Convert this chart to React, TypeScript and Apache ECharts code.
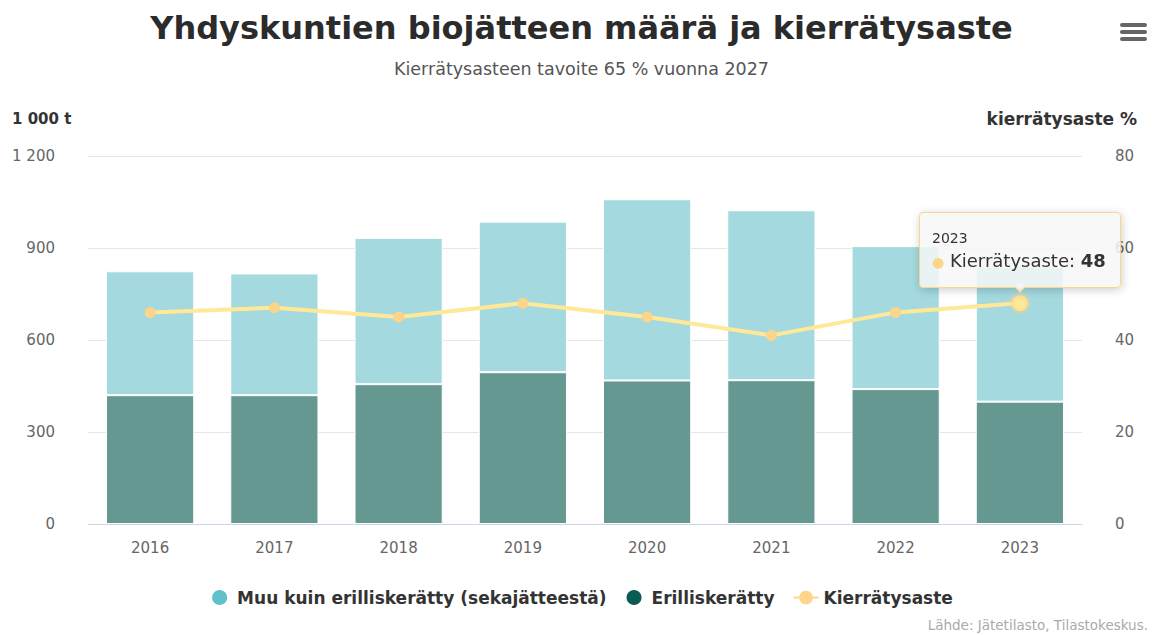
import React, { useEffect, useRef } from "react";
import * as echarts from "echarts";

const categories = ["2016", "2017", "2018", "2019", "2020", "2021", "2022", "2023"];
const mixedWaste = [404, 397, 477, 491, 591, 554, 466, 441];
const separateWaste = [420, 420, 456, 495, 468, 469, 440, 399];
const recyclingRate = [46, 47, 45, 48, 45, 41, 46, 48];

const leftTicks = { min: 0, max: 1200, interval: 300 };
const rightTicks = { min: 0, max: 80, interval: 20 };

const FONT = '"DejaVu Sans", sans-serif';

export default function App() {
  const ref = useRef<HTMLDivElement>(null);
  useEffect(() => {
    if (!ref.current) return;
    document.body.style.margin = "0";
    const chart = echarts.init(ref.current, null, { renderer: "svg" });
    chart.setOption({
      animation: false,
      textStyle: { fontFamily: FONT },
      title: {
        text: "Yhdyskuntien biojätteen määrä ja kierrätysaste",
        subtext: "Kierrätysasteen tavoite 65 % vuonna 2027",
        left: "center",
        top: 7,
        itemGap: 16,
        textStyle: { fontFamily: FONT, fontSize: 32, fontWeight: "bold", color: "#2b2b2b" },
        subtextStyle: { fontFamily: FONT, fontSize: 17.5, color: "#555" },
      },
      grid: { left: 88, right: 81, top: 156, bottom: 111 },
      tooltip: {
        trigger: "item",
        position: "top",
        alwaysShowContent: true,
        backgroundColor: "rgba(247,247,247,0.85)",
        borderColor: "#fcd68a",
        borderWidth: 1,
        padding: [14, 14, 13, 12],
        textStyle: { fontFamily: FONT, color: "#333" },
        formatter: (p: any) =>
          `<div style="font-size:14px;line-height:22px">${p.name}</div>` +
          `<div style="font-size:18px;line-height:24px"><span style="color:${p.color};font-size:14px">●</span> ${p.seriesName}: <b>${p.value}</b></div>`,
      },
      legend: {
        left: "center",
        top: 583,
        itemGap: 18,
        itemWidth: 25,
        itemHeight: 17,
        textStyle: { fontFamily: FONT, fontSize: 17, fontWeight: "bold", color: "#333" },
        data: [
          { name: "Muu kuin erilliskerätty (sekajätteestä)", icon: "circle", itemStyle: { color: "#62c0cb" } },
          { name: "Erilliskerätty", icon: "circle", itemStyle: { color: "#0a5c55" } },
          { name: "Kierrätysaste" },
        ],
      },
      xAxis: {
        type: "category",
        data: categories,
        axisLine: { lineStyle: { color: "#ccd6eb" } },
        axisTick: { show: false },
        axisLabel: { color: "#666", fontSize: 15, margin: 16 },
      },
      yAxis: [
        {
          type: "value",
          ...leftTicks,
          axisLabel: {
            color: "#666",
            fontSize: 15,
            margin: 33,
            formatter: (v: number) => String(v).replace(/\B(?=(\d{3})+(?!\d))/g, " "),
          },
          splitLine: { lineStyle: { color: "#e6e6e6" } },
          axisLine: { show: false },
          axisTick: { show: false },
        },
        {
          type: "value",
          ...rightTicks,
          position: "right",
          axisLabel: { color: "#666", fontSize: 15, margin: 33 },
          splitLine: { show: false },
          axisLine: { show: false },
          axisTick: { show: false },
        },
      ],
      series: [
        {
          name: "Erilliskerätty",
          type: "bar",
          stack: "total",
          barWidth: "71%",
          data: separateWaste,
          itemStyle: { color: "#659890", borderColor: "#fff", borderWidth: 1 },
          tooltip: { show: false },
        },
        {
          name: "Muu kuin erilliskerätty (sekajätteestä)",
          type: "bar",
          stack: "total",
          barWidth: "71%",
          data: mixedWaste,
          itemStyle: { color: "#a3d9df", borderColor: "#fff", borderWidth: 1 },
          tooltip: { show: false },
        },
        {
          name: "Kierrätysaste",
          type: "line",
          yAxisIndex: 1,
          data: recyclingRate,
          symbol: "circle",
          symbolSize: 11,
          lineStyle: { color: "#fcd48a", width: 4 },
          itemStyle: { color: "#fcd48a" },
          emphasis: {
            scale: 1.45,
            itemStyle: { borderColor: "rgba(252,212,138,0.35)", borderWidth: 6 },
          },
          z: 5,
        },
      ],
      graphic: [
        {
          type: "text",
          left: 12,
          top: 111,
          style: { text: "1 000 t", fontFamily: FONT, fontSize: 15, fontWeight: "bold", fill: "#333" },
        },
        {
          type: "text",
          right: 26,
          top: 110,
          style: { text: "kierrätysaste %", fontFamily: FONT, fontSize: 17, fontWeight: "bold", fill: "#333" },
        },
        {
          type: "text",
          right: 15,
          top: 618,
          style: { text: "Lähde: Jätetilasto, Tilastokeskus.", fontFamily: FONT, fontSize: 13.5, fill: "#aaa" },
        },
        {
          type: "group",
          right: 16,
          top: 23,
          children: [
            { type: "rect", shape: { x: 0, y: 0, width: 27, height: 4, r: 2 }, style: { fill: "#666" } },
            { type: "rect", shape: { x: 0, y: 7, width: 27, height: 4, r: 2 }, style: { fill: "#666" } },
            { type: "rect", shape: { x: 0, y: 14, width: 27, height: 4, r: 2 }, style: { fill: "#666" } },
          ],
        },
      ],
    });
    const t = setTimeout(() => {
      chart.dispatchAction({ type: "highlight", seriesIndex: 2, dataIndex: 7 });
      chart.dispatchAction({ type: "showTip", seriesIndex: 2, dataIndex: 7 });
    }, 50);
    return () => {
      clearTimeout(t);
      chart.dispose();
    };
  }, []);
  return <div ref={ref} style={{ width: 1163, height: 635 }} />;
}
